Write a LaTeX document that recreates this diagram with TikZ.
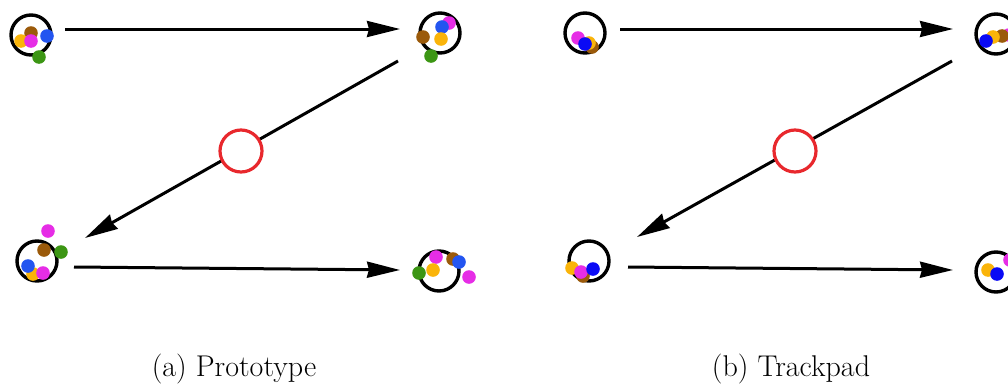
\documentclass[tikz,border=0pt]{standalone}
\usetikzlibrary{arrows.meta}
\definecolor{dblue}{RGB}{35,85,240}
\definecolor{pblue}{RGB}{10,10,245}
\definecolor{dmag}{RGB}{230,45,230}
\definecolor{dorange}{RGB}{250,180,10}
\definecolor{dbrown}{RGB}{155,90,10}
\definecolor{dgreen}{RGB}{60,150,20}
\definecolor{ringred}{RGB}{232,40,45}
\tikzset{
  x=1pt, y=-1pt,
  ring/.style={circle, draw=black, line width=3.4pt, minimum size=40pt, inner sep=0pt},
  dot/.style={fill=#1, draw=none},
  flow/.style={line width=3pt, -{Stealth[length=33pt,width=16pt,inset=2pt]}},
  marker/.style={circle, draw=ringred, line width=3.2pt, fill=white, minimum size=42pt, inner sep=0pt},
  caption/.style={font=\fontsize{30}{36}\selectfont, anchor=base}
}
\newcommand{\dt}[3]{\fill[dot=#1] (#2,#3) circle (6.8);}
\begin{document}
\begin{tikzpicture}
\useasboundingbox (0,0) rectangle (1008,383);
\clip (0,0) rectangle (1008,383);

% ---------- (a) Prototype ----------
\node[ring] (pa1) at (31,35) {};
\node[ring] (pa2) at (440,33) {};
\node[ring] (pa3) at (37,261) {};
\node[ring] (pa4) at (439,271) {};

\dt{dbrown}{31}{33} \dt{dorange}{21}{41} \dt{dmag}{31}{41}
\dt{dblue}{47}{36} \dt{dgreen}{39}{57}

\dt{dmag}{449}{23} \dt{dblue}{442}{27} \dt{dbrown}{423}{37}
\dt{dorange}{441}{39} \dt{dgreen}{431}{56}

\dt{dorange}{33}{274} \dt{dblue}{28}{266} \dt{dmag}{43}{273}
\dt{dbrown}{44}{250} \dt{dgreen}{61}{252} \dt{dmag}{48}{231}

\dt{dmag}{436}{257} \dt{dbrown}{453}{259} \dt{dblue}{459}{262}
\dt{dorange}{433}{270} \dt{dgreen}{419}{273} \dt{dmag}{469}{277}

\coordinate (a1s) at (65,29);  \coordinate (a1e) at (400,29);
\coordinate (a2s) at (398,61); \coordinate (a2e) at (85,238);
\coordinate (a3s) at (74,267); \coordinate (a3e) at (400,270);
\draw[flow] (a1s) -- (a1e);
\draw[flow] (a2s) -- (a2e);
\draw[flow] (a3s) -- (a3e);
\node[marker] (ma) at (241,151) {};

\node[caption] (capa) at (234,376) {(a) Prototype};

% ---------- (b) Trackpad ----------
\node[ring] (pb1) at (585,33) {};
\node[ring] (pb2) at (996,34) {};
\node[ring] (pb3) at (589,261) {};
\node[ring] (pb4) at (996,272) {};

\dt{dmag}{578}{38} \dt{dbrown}{592}{47} \dt{dorange}{589}{43} \dt{pblue}{585}{44}

\dt{dmag}{1009}{35} \dt{dbrown}{1002}{36} \dt{dorange}{993}{37} \dt{pblue}{986}{41}

\dt{dorange}{572}{268} \dt{dbrown}{583}{276} \dt{dmag}{581}{272} \dt{pblue}{593}{269}

\dt{dmag}{1010}{260} \dt{dorange}{988}{270} \dt{pblue}{997}{274}

\coordinate (b1s) at (620,29);  \coordinate (b1e) at (953,29);
\coordinate (b2s) at (952,61);  \coordinate (b2e) at (637,237);
\coordinate (b3s) at (628,267); \coordinate (b3e) at (953,270);
\draw[flow] (b1s) -- (b1e);
\draw[flow] (b2s) -- (b2e);
\draw[flow] (b3s) -- (b3e);
\node[marker] (mb) at (795,151) {};

\node[caption] (capb) at (791,376) {(b) Trackpad};
\end{tikzpicture}
\end{document}
